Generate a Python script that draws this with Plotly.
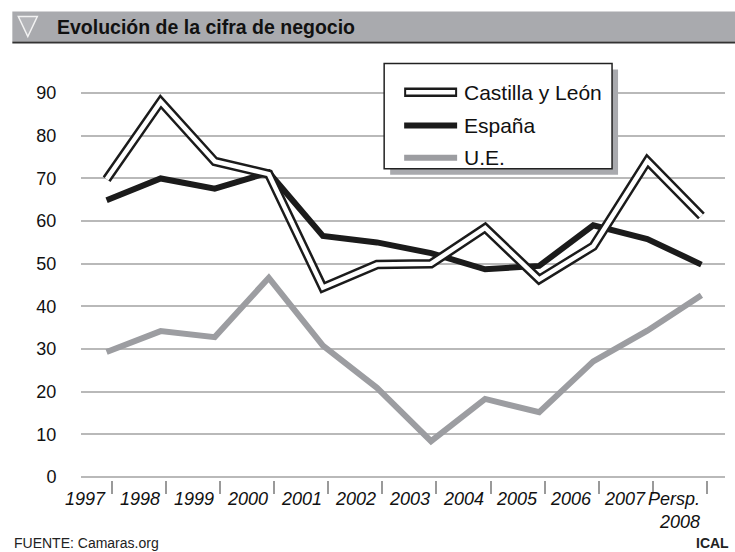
import plotly.graph_objects as go

# ---------------- data ----------------
years = ["1997", "1998", "1999", "2000", "2001", "2002", "2003",
         "2004", "2005", "2006", "2007", "Persp.<br>2008"]
castilla_leon = [69.8, 88.0, 74.0, 71.0, 44.4, 49.8, 50.0, 58.4, 46.3, 54.1, 74.1, 61.2]
espana = [64.9, 70.0, 67.6, 71.4, 56.5, 55.0, 52.5, 48.7, 49.5, 59.0, 55.8, 49.8]
ue = [29.3, 34.2, 32.8, 46.7, 30.8, 20.9, 8.4, 18.3, 15.2, 27.1, 34.3, 42.6]
series_names = ["Castilla y León", "España", "U.E."]
y_ticks = [0, 10, 20, 30, 40, 50, 60, 70, 80, 90]
title_text = "Evolución de la cifra de negocio"
source_text = "FUENTE: Camaras.org"
credit_text = "ICAL"

idx = list(range(len(years)))

# ---------------- layout geometry (pixels) ----------------
W, H = 735, 552
ML, MR = 80.7, 10
PLOT_TOP, PLOT_BOT = 59.4, 479.9
MT, MB = PLOT_TOP, H - PLOT_BOT
PW = W - ML - MR
PH = PLOT_BOT - PLOT_TOP
X0_PX, X_STEP = 106.3, 54.1   # pixel of category 0 and spacing


def px(x):
    return (x - ML) / PW


def py(y):
    return (PLOT_BOT - y) / PH


FONT = "Liberation Sans, Arial, sans-serif"

BLACK = "#1b1b1b"
GRAY = "#9c9da1"

fig = go.Figure()

fig.add_trace(go.Scatter(x=idx, y=ue, mode="lines", name=series_names[2],
                         line=dict(color=GRAY, width=6), showlegend=False,
                         hoverinfo="skip"))
fig.add_trace(go.Scatter(x=idx, y=espana, mode="lines", name=series_names[1],
                         line=dict(color=BLACK, width=6), showlegend=False,
                         hoverinfo="skip"))
fig.add_trace(go.Scatter(x=idx, y=castilla_leon, mode="lines", name=series_names[0],
                         line=dict(color=BLACK, width=9.5), showlegend=False,
                         hoverinfo="skip"))
fig.add_trace(go.Scatter(x=idx, y=castilla_leon, mode="lines", name=series_names[0],
                         line=dict(color="white", width=4.5), showlegend=False,
                         hoverinfo="skip"))

shapes = []
annotations = []

# title band
shapes.append(dict(type="rect", xref="paper", yref="paper",
                   x0=px(12), x1=px(735), y0=py(42), y1=py(12),
                   fillcolor="#a9aaae", line=dict(width=0), layer="below"))
shapes.append(dict(type="line", xref="paper", yref="paper",
                   x0=px(12), x1=px(735), y0=py(43), y1=py(43),
                   line=dict(color="#333333", width=2)))
# triangle icon
shapes.append(dict(type="path", xref="paper", yref="paper",
                   path=f"M {px(18)} {py(17)} L {px(37)} {py(17)} L {px(27.5)} {py(37)} Z",
                   fillcolor="#b4b5b9", line=dict(color="#f2f2f2", width=1.5)))
annotations.append(dict(xref="paper", yref="paper", x=px(55), y=py(27),
                        xanchor="left", yanchor="middle", showarrow=False,
                        text="<b>" + title_text + "</b>",
                        font=dict(family=FONT, size=19.5, color="#111111")))

# legend box with shadow
shapes.append(dict(type="rect", xref="paper", yref="paper",
                   x0=px(390), x1=px(618), y0=py(175), y1=py(70),
                   fillcolor="#a9aaae", line=dict(width=0)))
shapes.append(dict(type="rect", xref="paper", yref="paper",
                   x0=px(384), x1=px(612), y0=py(169), y1=py(64),
                   fillcolor="white", line=dict(color="#222222", width=1.5)))
leg_y = [92.7, 125.7, 158.0]
shapes.append(dict(type="line", xref="paper", yref="paper",
                   x0=px(404), x1=px(457), y0=py(leg_y[0]), y1=py(leg_y[0]),
                   line=dict(color=BLACK, width=9.5)))
shapes.append(dict(type="line", xref="paper", yref="paper",
                   x0=px(406), x1=px(455), y0=py(leg_y[0]), y1=py(leg_y[0]),
                   line=dict(color="white", width=4.5)))
shapes.append(dict(type="line", xref="paper", yref="paper",
                   x0=px(404), x1=px(457), y0=py(leg_y[1]), y1=py(leg_y[1]),
                   line=dict(color=BLACK, width=6)))
shapes.append(dict(type="line", xref="paper", yref="paper",
                   x0=px(404), x1=px(457), y0=py(leg_y[2]), y1=py(leg_y[2]),
                   line=dict(color=GRAY, width=6)))
for name, yy in zip(series_names, leg_y):
    annotations.append(dict(xref="paper", yref="paper", x=px(462), y=py(yy),
                            xanchor="left", yanchor="middle", showarrow=False,
                            text=name, font=dict(family=FONT, size=21, color="#111111")))

# x category labels: right-aligned just left of each tick mark
for i, lab in zip(idx, years):
    annotations.append(dict(xref="x", yref="paper", x=i + 0.1 - 4.5 / X_STEP,
                            y=py(487), xanchor="right", yanchor="top",
                            align="right", showarrow=False, text=lab,
                            font=dict(family=FONT, size=18, color="#111111",
                                      style="italic")))

# footer
annotations.append(dict(xref="paper", yref="paper", x=px(12), y=py(543),
                        xanchor="left", yanchor="middle", showarrow=False,
                        text=source_text, font=dict(family=FONT, size=14, color="#222222")))
annotations.append(dict(xref="paper", yref="paper", x=px(731), y=py(543),
                        xanchor="right", yanchor="middle", showarrow=False,
                        text="<b>" + credit_text + "</b>",
                        font=dict(family=FONT, size=14, color="#222222")))

fig.update_layout(
    width=W, height=H,
    margin=dict(l=ML, r=MR, t=MT, b=MB, pad=0, autoexpand=False),
    paper_bgcolor="white", plot_bgcolor="white",
    showlegend=False,
    shapes=shapes, annotations=annotations,
    xaxis=dict(range=[(80.7 - X0_PX) / X_STEP, (725 - X0_PX) / X_STEP],
               tickvals=[i + 0.1 for i in idx], showticklabels=False,
               ticks="outside", ticklen=13, tickwidth=2, tickcolor="#9a9a9a",
               showgrid=False, zeroline=False, showline=False, automargin=False),
    yaxis=dict(range=[-0.7, 98], tickvals=y_ticks,
               showgrid=True, gridcolor="#b9b9b9", gridwidth=1.5,
               zeroline=False, showline=False, automargin=False,
               ticks="outside", ticklen=20, tickcolor="rgba(0,0,0,0)",
               tickfont=dict(family=FONT, size=18, color="#111111")),
)

fig.write_html("out.html",
               config={"displayModeBar": False},
               post_script="document.body.style.margin='0';document.body.style.padding='0';")
